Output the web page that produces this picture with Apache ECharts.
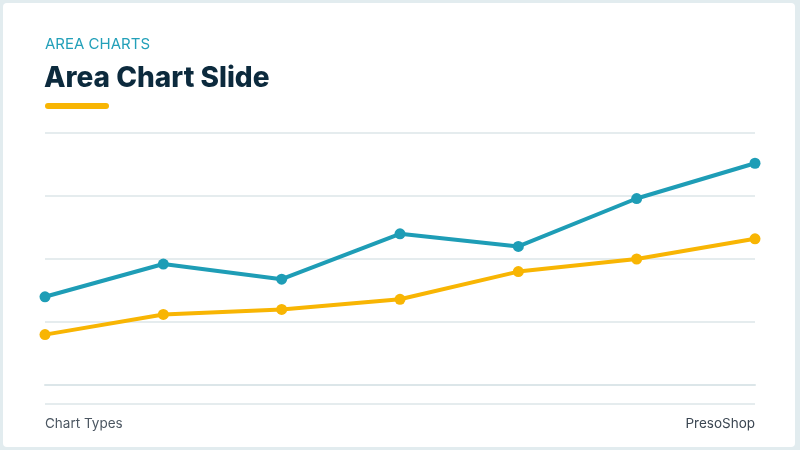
<!DOCTYPE html>
<html>
  <head>
    <meta charset="utf-8" />
    <title>Area Chart Slide</title>
    <script src="https://cdn.jsdelivr.net/npm/echarts@6/dist/echarts.min.js"></script>
    <style>
      * {
        padding: 0;
        margin: 0;
      }
      body {
        background: #e2ecef;
      }
      #chart-panel {
        width: 800px;
        height: 450px;
      }
    </style>
  </head>
  <body>
    <div id="chart-panel"></div>
    <script>
      // data (y axis 0..100)
      const categories = ["1", "2", "3", "4", "5", "6", "7"];
      const seriesA = [35, 48, 42, 60, 55, 74, 88];
      const seriesB = [20, 28, 30, 34, 45, 50, 58];
      const yTicks = [0, 25, 50, 75, 100];

      const teal = "#1e9db6";
      const gold = "#f8b503";
      const grid = "#dce6e9";
      const font = "Inter, 'Noto Sans', sans-serif";

      var myChart = echarts.init(document.getElementById("chart-panel"));

      function lineSeries(name, data, color) {
        return {
          name: name,
          type: "line",
          data: data,
          symbol: "circle",
          symbolSize: 11,
          lineStyle: { color: color, width: 4 },
          itemStyle: { color: color },
          z: 3,
        };
      }

      var option = {
        backgroundColor: "#e2ecef",
        animation: false,
        grid: { left: 45, right: 45, top: 133, bottom: 65 },
        xAxis: {
          type: "category",
          data: categories,
          boundaryGap: false,
          axisLabel: { show: false },
          axisTick: { show: false },
          axisLine: { show: true, lineStyle: { color: grid, width: 2 } },
        },
        yAxis: {
          type: "value",
          min: yTicks[0],
          max: yTicks[yTicks.length - 1],
          interval: 25,
          axisLabel: { show: false },
          axisLine: { show: false },
          axisTick: { show: false },
          splitLine: { lineStyle: { color: grid, width: 1.5 } },
        },
        graphic: [
          {
            type: "rect",
            z: -10,
            shape: { x: 3, y: 3, width: 792, height: 444, r: 4 },
            style: { fill: "#ffffff" },
          },
          {
            type: "text",
            left: 45,
            top: 37,
            style: {
              text: "AREA CHARTS",
              fill: "#23a0b9",
              font: "400 15px " + font,
            },
          },
          {
            type: "text",
            left: 44,
            top: 65,
            style: {
              text: "Area Chart Slide",
              fill: "#0c2a3d",
              font: "800 28px " + font,
            },
          },
          {
            type: "rect",
            shape: { x: 45, y: 103, width: 64, height: 6, r: 3 },
            style: { fill: gold },
          },
          {
            type: "line",
            shape: { x1: 45, y1: 404, x2: 755, y2: 404 },
            style: { stroke: grid, lineWidth: 1.5 },
          },
          {
            type: "text",
            left: 45,
            top: 417,
            style: {
              text: "Chart Types",
              fill: "#4b5661",
              font: "400 13.5px " + font,
            },
          },
          {
            type: "text",
            right: 45,
            top: 417,
            style: {
              text: "PresoShop",
              fill: "#3b4652",
              font: "400 13.5px " + font,
            },
          },
        ],
        series: [
          lineSeries("A", seriesA, teal),
          lineSeries("B", seriesB, gold),
        ],
      };

      myChart.setOption(option);
    </script>
  </body>
</html>
